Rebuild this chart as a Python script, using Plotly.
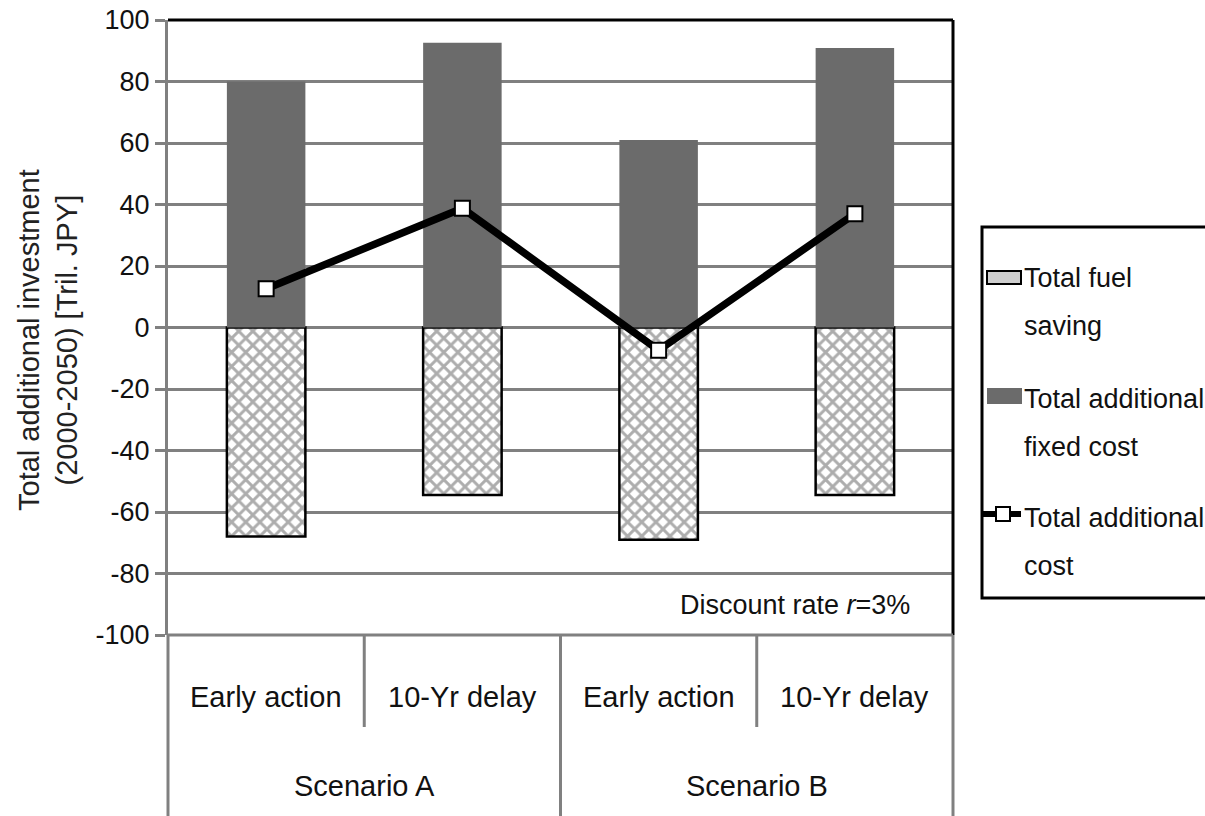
import plotly.graph_objects as go

# ---- data ----
sub_categories = ["Early action", "10-Yr delay", "Early action", "10-Yr delay"]
scenarios = ["Scenario A", "Scenario B"]
fixed_cost = [80.0, 92.6, 61.0, 90.9]
fuel_saving = [-68.0, -54.5, -69.0, -54.5]
total_cost = [12.6, 38.8, -7.4, 37.0]
y_ticks = [-100, -80, -60, -40, -20, 0, 20, 40, 60, 80, 100]
y_tick_text = [str(v) for v in y_ticks]

W, H = 1205, 816
PX0, PX1 = 168, 953      # plot area, pixels
PY0, PY1 = 20, 635

def px(x):
    return (x - PX0) / (PX1 - PX0)

def py(y):
    return (PY1 - y) / (PY1 - PY0)

FONT = "Liberation Sans, Arial, sans-serif"
GRID = "#808080"
xs = list(range(len(sub_categories)))

fig = go.Figure()
fig.add_trace(go.Bar(
    x=xs, y=fuel_saving, width=0.4, name="Total fuel saving",
    marker=dict(color="white", line=dict(color="black", width=2.5),
                pattern=dict(shape="x", fgcolor="#5c5c5c", bgcolor="white",
                             size=10, solidity=0.5)),
    showlegend=False))
fig.add_trace(go.Bar(
    x=xs, y=fixed_cost, width=0.4, name="Total additional fixed cost",
    marker=dict(color="#6b6b6b", line=dict(width=0)), showlegend=False))
fig.add_trace(go.Scatter(
    x=xs, y=total_cost, mode="lines+markers", name="Total additional cost",
    line=dict(color="black", width=7.5),
    marker=dict(symbol="square", size=15, color="white",
                line=dict(color="black", width=2)),
    showlegend=False))

shapes = []
annotations = []

def pline(x0, y0, x1, y1, color=GRID, width=3):
    shapes.append(dict(type="line", xref="paper", yref="paper",
                       x0=px(x0), y0=py(y0), x1=px(x1), y1=py(y1),
                       line=dict(color=color, width=width)))

def ptext(x, y, text, size, xanchor="center", color="#111", angle=0):
    annotations.append(dict(x=px(x), y=py(y), xref="paper", yref="paper",
                            xanchor=xanchor, yanchor="middle", text=text,
                            textangle=angle, showarrow=False,
                            font=dict(size=size, color=color, family=FONT)))

# frame
pline(PX0, PY0, PX1, PY0, "black", 3)
pline(PX1, PY0, PX1, PY1, "black", 3)
pline(PX0, PY1, PX1, PY1, GRID, 3)
# category table
cw = (PX1 - PX0) / 4
pline(PX0, PY1, PX0, H + 5)
pline(PX0 + 2 * cw, PY1, PX0 + 2 * cw, H + 5)
pline(PX1, PY1, PX1, H + 5)
pline(PX0 + cw, PY1, PX0 + cw, 727)
pline(PX0 + 3 * cw, PY1, PX0 + 3 * cw, 727)

for i, lab in enumerate(sub_categories):
    annotations.append(dict(x=i, xref="x", y=py(697), yref="paper", text=lab,
                            xanchor="center", yanchor="middle", showarrow=False,
                            font=dict(size=29, color="#111", family=FONT)))
for j, lab in enumerate(scenarios):
    annotations.append(dict(x=2 * j + 0.5, xref="x", y=py(786), yref="paper", text=lab,
                            xanchor="center", yanchor="middle", showarrow=False,
                            font=dict(size=29, color="#111", family=FONT)))

ptext(912, 605, "Discount rate <i>r</i>=3%", 27, xanchor="right")

# y-axis title
ptext(48, 340, "Total additional investment<br>(2000-2050) [Tril. JPY]", 29,
      color="#222", angle=-90)

# legend (manual)
shapes.append(dict(type="rect", xref="paper", yref="paper",
                   x0=px(982), x1=px(1220), y0=py(598), y1=py(227),
                   line=dict(color="black", width=3), fillcolor="white", layer="below"))
shapes.append(dict(type="rect", xref="paper", yref="paper",
                   x0=px(987), x1=px(1021), y0=py(284), y1=py(271),
                   line=dict(color="black", width=2), fillcolor="#cfcfcf"))
shapes.append(dict(type="rect", xref="paper", yref="paper",
                   x0=px(987), x1=px(1022), y0=py(404), y1=py(388),
                   line=dict(width=0), fillcolor="#6b6b6b"))
pline(983, 514, 1021, 514, "black", 6)
shapes.append(dict(type="rect", xref="paper", yref="paper",
                   x0=px(996), x1=px(1010), y0=py(521), y1=py(507),
                   line=dict(color="black", width=2), fillcolor="white"))
for txt, yy in [("Total fuel", 278), ("saving", 326), ("Total additional", 399),
                ("fixed cost", 447), ("Total additional", 518), ("cost", 566)]:
    ptext(1022, yy, txt, 27, xanchor="left")

fig.update_layout(
    width=W, height=H, autosize=False,
    margin=dict(l=PX0, r=W - PX1, t=PY0, b=H - PY1, pad=0, autoexpand=False),
    paper_bgcolor="white", plot_bgcolor="white",
    barmode="relative",
    showlegend=False,
    shapes=shapes, annotations=annotations,
    font=dict(family=FONT, color="#111"),
    xaxis=dict(range=[-0.5, 3.5], showticklabels=False, showgrid=False,
               zeroline=False, showline=False, ticks=""),
    yaxis=dict(range=[-100, 100], tickvals=y_ticks, ticktext=y_tick_text,
               showgrid=True, gridcolor=GRID, gridwidth=3, zeroline=True,
               zerolinecolor=GRID, zerolinewidth=3, showline=True,
               linecolor=GRID, linewidth=3,
               ticks="outside", ticklen=10, tickwidth=3, tickcolor=GRID,
               tickfont=dict(size=27, color="#111", family=FONT)),
)

fig.write_html("out.html", config={"displayModeBar": False},
               post_script="document.body.style.margin='0';")
